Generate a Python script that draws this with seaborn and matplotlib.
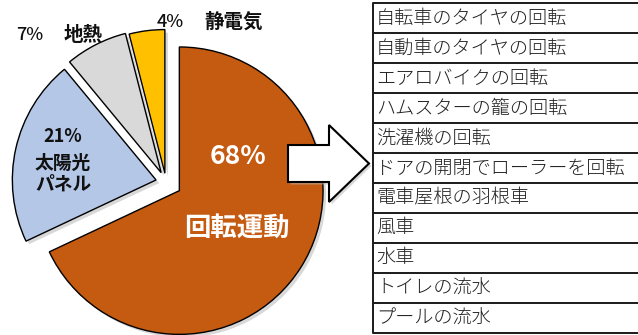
import matplotlib
matplotlib.use("Agg")
import matplotlib.pyplot as plt
from matplotlib.patches import Polygon
import seaborn as sns

# Share of energy sources
sources = ["回転運動", "太陽光パネル", "地熱", "静電気"]
shares = [68, 21, 7, 4]
source_colors = ["#C55A11", "#B4C7E7", "#D9D9D9", "#FFC000"]
explode_px = [15.8, 10.2, 10.7, 9.0]

# Examples of rotational motion
examples = [
    "自転車のタイヤの回転",
    "自動車のタイヤの回転",
    "エアロバイクの回転",
    "ハムスターの籠の回転",
    "洗濯機の回転",
    "ドアの開閉でローラーを回転",
    "電車屋根の羽根車",
    "風車",
    "水車",
    "トイレの流水",
    "プールの流水",
]

sns.set_style("white")
plt.rcParams["font.family"] = ["Noto Sans CJK JP", "DejaVu Sans"]

W, H = 638, 335
fig = plt.figure(figsize=(W / 100, H / 100), dpi=100)
ax = fig.add_axes([0, 0, 1, 1])

R = 143.7
cx, cy = 166.0, H - 182.2
palette = sns.color_palette(source_colors)

wedges, _ = ax.pie(
    shares,
    colors=palette,
    startangle=90,
    counterclock=False,
    radius=R,
    center=(cx, cy),
    explode=explode_px,
    wedgeprops=dict(edgecolor="black", linewidth=1.0),
    shadow=dict(ox=2.2, oy=-2.2, facecolor="#b8b8b8", edgecolor="none", alpha=0.55),
)

ax.set_xlim(0, W)
ax.set_ylim(0, H)
ax.set_aspect("equal", adjustable="box")
ax.axis("off")

def y(v):
    return H - v

bold = dict(fontweight="bold", ha="center", va="center")
# Main slice labels
ax.text(238, y(157), f"{shares[0]}%", color="white", fontsize=19, **bold)
ax.text(237, y(228), sources[0], color="white", fontsize=19, **bold)
# Solar panel
ax.text(63, y(136), f"{shares[1]}%", color="#111111", fontsize=13, **bold)
ax.text(63, y(163), "太陽光", color="#111111", fontsize=13.5, **bold)
ax.text(63, y(184), "パネル", color="#111111", fontsize=13.5, **bold)
# Geothermal and static
ax.text(30, y(35), f"{shares[2]}%", color="#111111", fontsize=13, ha="center",
        va="center", fontweight="medium")
ax.text(83, y(35), sources[2], color="#111111", fontsize=14, **bold)
ax.text(170, y(22), f"{shares[3]}%", color="#111111", fontsize=13, ha="center",
        va="center", fontweight="medium")
ax.text(234, y(22), sources[3], color="#111111", fontsize=14, **bold)

# Block arrow pointing to the list
arrow_pts = [(288, 145), (329, 145), (329, 125), (369, 163.5),
             (329, 202), (329, 182), (288, 182)]
shadow_pts = [(px + 2.5, y(py) - 2.5) for px, py in arrow_pts]
ax.add_patch(Polygon(shadow_pts, closed=True, facecolor="#bbbbbb",
                     edgecolor="none", alpha=0.55, zorder=4))
ax.add_patch(Polygon([(px, y(py)) for px, py in arrow_pts], closed=True,
                     facecolor="white", edgecolor="black", linewidth=1.5,
                     zorder=5))

# List of examples as a single-column table
top, row_h, left = 3.3, 29.95, 373
n = len(examples)
for i in range(n + 1):
    ax.plot([left, W + 5], [y(top + i * row_h)] * 2, color="#1a1a1a",
            linewidth=1.4, solid_capstyle="butt", zorder=6, clip_on=False)
ax.plot([left, left], [y(top), y(top + n * row_h)], color="#1a1a1a",
        linewidth=1.4, zorder=6)
for i, label in enumerate(examples):
    ax.text(left + 3, y(top + (i + 0.5) * row_h), label, fontsize=13.8,
            color="#222222", ha="left", va="center", fontweight="light",
            zorder=7)

fig.savefig("out.png", dpi=100)
